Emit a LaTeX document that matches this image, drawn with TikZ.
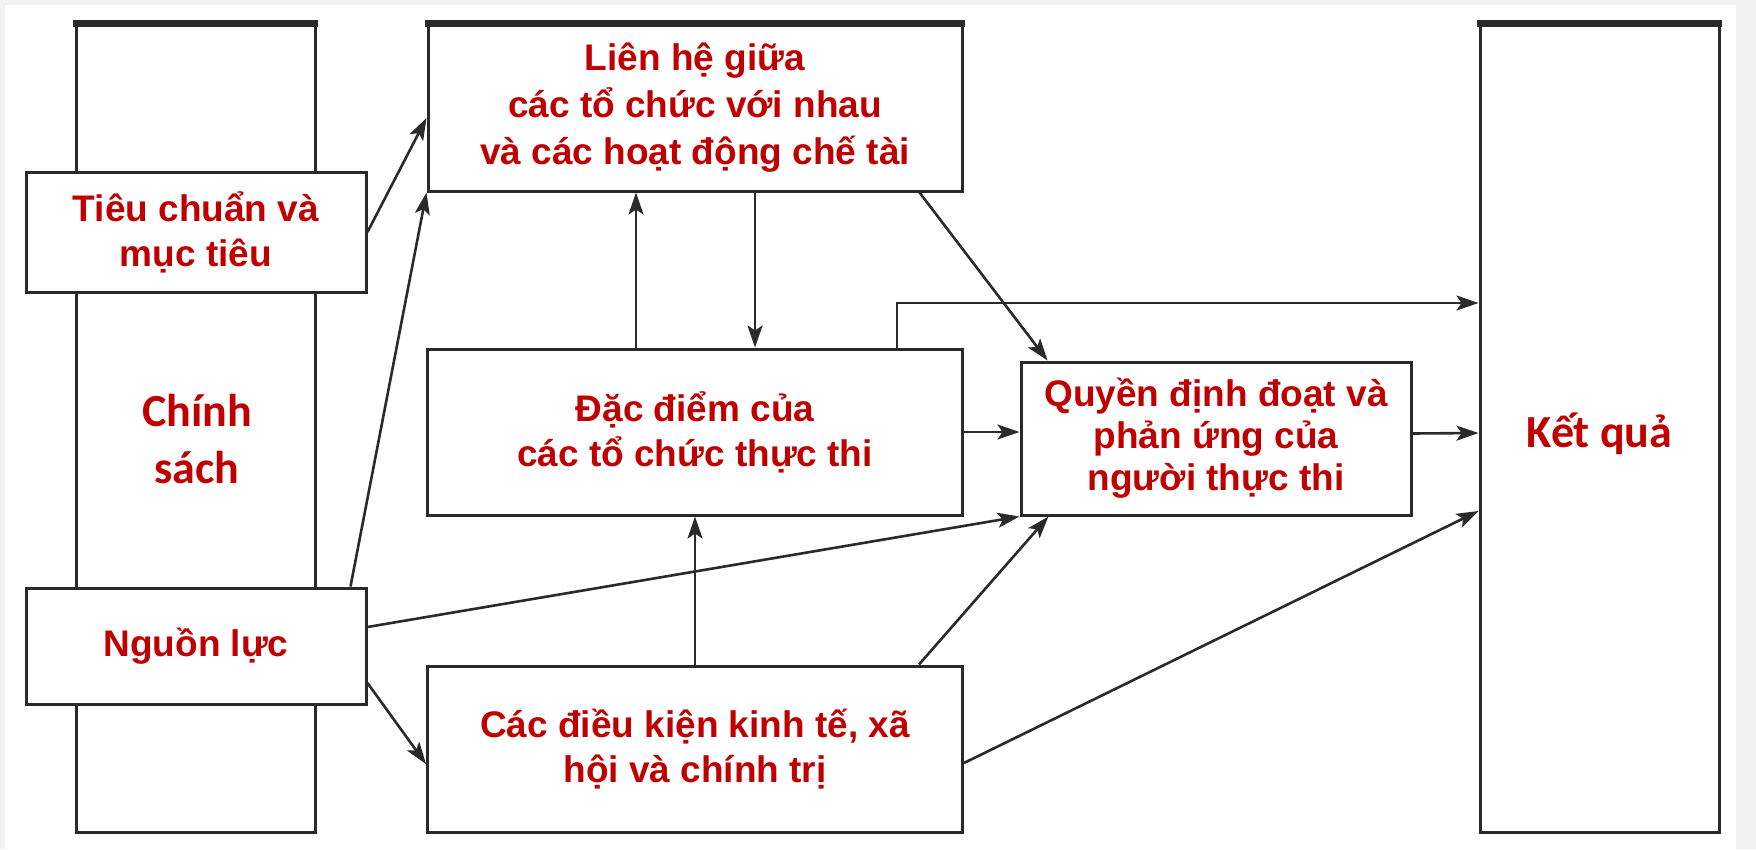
\documentclass[tikz,border=0pt]{standalone}
\usepackage{fontspec}
\setmainfont{Liberation Sans}
\newfontfamily\calfont{Carlito}
\usetikzlibrary{arrows.meta,calc}
\definecolor{txtred}{HTML}{C00000}
\definecolor{edgecol}{HTML}{2A2A2A}
\definecolor{bggray}{HTML}{F2F2F2}
\tikzset{
  box/.style={draw=edgecol, line width=3pt, fill=white, inner sep=0pt, align=center,
    text=txtred, font={\bfseries\fontsize{37}{45}\selectfont}},
  conn/.style={draw=edgecol, line width=2.6pt, -{Stealth[length=22pt,width=15pt,inset=5pt]}},
  topedge/.style={draw=edgecol, line width=7pt},
  bigtext/.style={text=txtred, font={\calfont\bfseries\fontsize{46}{57}\selectfont}, align=center, inner sep=0pt}
}
\begin{document}
\begin{tikzpicture}[x=1pt,y=-1pt]
\useasboundingbox (0,0) rectangle (1756,849);
\fill[bggray] (0,0) rectangle (1756,849);
\fill[white] (5,5) rectangle (1736,849);

% Chinh sach
\node[box, minimum width=239pt, minimum height=808pt] (cs) at (195.5,428) {};
\draw[topedge] ($(cs.north west)+(-1.5,1)$) -- ($(cs.north east)+(1.5,1)$);
\node[bigtext] (cst) at (197,439) {Chính\\sách};

% Ket qua
\node[box, minimum width=239pt, minimum height=808pt] (kq) at (1599.5,428) {};
\draw[topedge] ($(kq.north west)+(-1.5,1)$) -- ($(kq.north east)+(1.5,1)$);
\node[bigtext, anchor=base] (kqt) at (1599.5,447) {Kết quả};

% Lien he
\node[box, minimum width=534pt, minimum height=167pt, font={\bfseries\fontsize{37}{47}\selectfont}] (lh) at (695,107.5)
  {Liên hệ giữa\\các tổ chức với nhau\\và các hoạt động chế tài};
\draw[topedge] ($(lh.north west)+(-1.5,1)$) -- ($(lh.north east)+(1.5,1)$);

% Tieu chuan, Nguon luc
\node[box, minimum width=340pt, minimum height=120pt] (tc) at (196,232) {Tiêu chuẩn và\\mục tiêu};
\node[box, minimum width=340pt, minimum height=116pt] (nl) at (196,646) {Nguồn lực};

% Dac diem, Cac dieu kien
\node[box, minimum width=535pt, minimum height=166pt] (dd) at (695,432) {Đặc điểm của\\các tổ chức thực thi};
\node[box, minimum width=535pt, minimum height=166pt] (ce) at (695,749) {Các điều kiện kinh tế, xã\\hội và chính trị};

% Quyen dinh doat
\node[box, minimum width=390pt, minimum height=153pt, font={\bfseries\fontsize{37}{42}\selectfont}] (qd) at (1216,438.5)
  {Quyền định đoạt và\\phản ứng của\\người thực thi};

% connectors
\draw[conn] (tc.east) -- ($(lh.west)+(0,10.5)$);
\draw[conn] ($(nl.north east)+(-17,0)$) -- (lh.south west);
\draw[conn] ([xshift=-59pt]dd.north) -- ([xshift=-59pt]lh.south);
\draw[conn] ([xshift=60pt]lh.south) -- ([xshift=60pt]dd.north);
\draw[conn] ($(lh.south east)+(-44,0)$) -- ($(qd.north west)+(28,0)$);
\draw[conn] ([xshift=202pt]dd.north) |- ($(kq.west)+(0,-125)$);
\draw[conn] (dd.east) -- (dd.east -| qd.west);
\draw[conn] ($(qd.east)+(0,-5)$) -- ($(kq.west)+(0,5)$);
\draw[conn] ($(nl.east)+(0,-19)$) -- (qd.south west);
\draw[conn] (ce.north) -- (dd.south);
\draw[conn] ($(ce.north east)+(-45,0)$) -- ($(qd.south west)+(29,0)$);
\draw[conn] ($(ce.east)+(0,14)$) -- ($(kq.west)+(0,83)$);
\draw[conn] ($(nl.east)+(0,37)$) -- ($(ce.west)+(0,15)$);
\end{tikzpicture}
\end{document}
